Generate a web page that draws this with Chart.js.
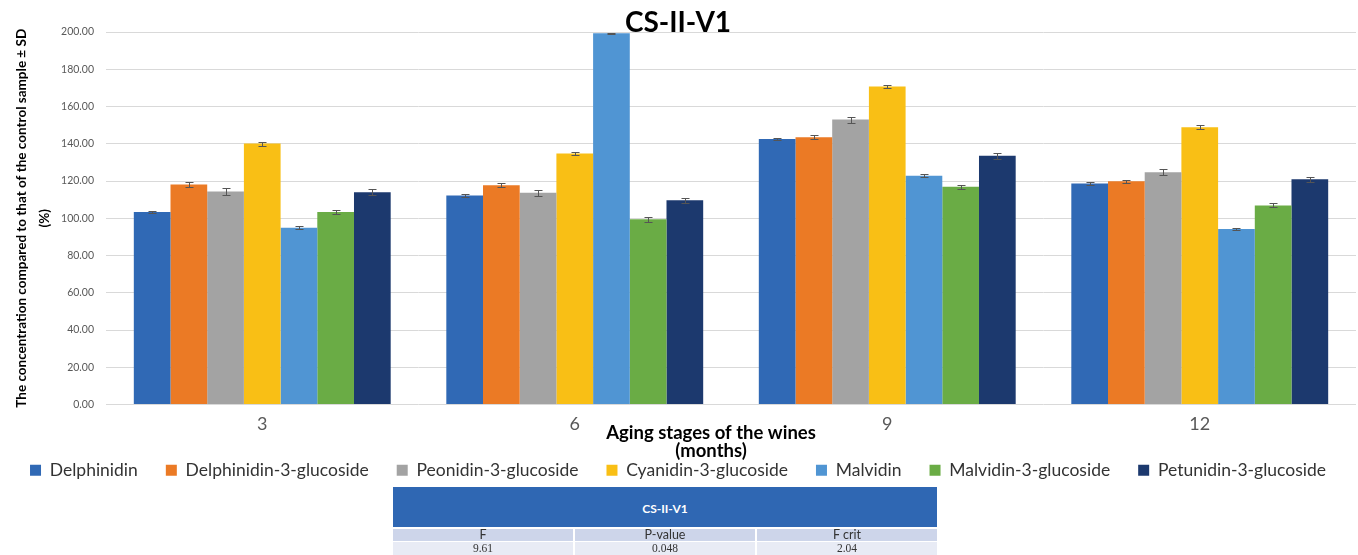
<!DOCTYPE html>
<html>
<head>
<meta charset="utf-8">
<script src="https://cdn.jsdelivr.net/npm/chart.js@4.4.1/dist/chart.umd.min.js"></script>
<style>
  html, body { margin: 0; padding: 0; background: #fff; }
  #wrap { position: relative; width: 1358px; height: 555px; overflow: hidden; }
  #myChart { position: absolute; left: 0; top: 0; }
  #anova {
    position: absolute; left: 393px; top: 487px; width: 544px; table-layout: fixed;
    border-collapse: collapse; font-family: 'Liberation Serif', serif; font-size: 11.5px; color: #333;
  }
  #anova td { text-align: center; padding: 0; border-left: 2px solid #fff; line-height: 12px; overflow: hidden; }
  #anova td:first-child { border-left: none; }
  #anova .head td { background: #2f67b3; color: #fff; font-family: Lato, sans-serif; font-weight: bold; font-size: 12px; height: 36px; padding-top: 4px; }
  #anova .lab td { background: #cdd5ea; font-family: Lato, sans-serif; font-size: 12.5px; height: 12px; border-top: 2px solid #fff; }
  #anova .val td { background: #e8ebf5; height: 13px; line-height: 13px; border-top: 1px solid #fff; }
</style>
</head>
<body>
<div id="wrap">
  <canvas id="myChart" width="1358" height="555"></canvas>
  <table id="anova">
    <colgroup><col style="width:181px"><col style="width:182px"><col style="width:181px"></colgroup>
    <tr class="head"><td colspan="3">CS-II-V1</td></tr>
    <tr class="lab"><td>F</td><td>P-value</td><td>F crit</td></tr>
    <tr class="val"><td>9.61</td><td>0.048</td><td>2.04</td></tr>
  </table>
</div>
<script>
const stages = ['3', '6', '9', '12'];

const delphinidin = [103.3, 112.2, 142.6, 118.7];
const delphinidin3g = [118.1, 117.7, 143.5, 119.9];
const peonidin3g = [114.4, 113.7, 153.0, 124.7];
const cyanidin3g = [140.1, 134.7, 170.8, 148.8];
const malvidin = [94.9, 199.3, 122.8, 94.2];
const malvidin3g = [103.3, 99.4, 116.9, 106.9];
const petunidin3g = [114.0, 109.7, 133.5, 121.0];

const delphinidinSd = [0.5, 0.7, 0.5, 0.6];
const delphinidin3gSd = [1.1, 1.1, 1.1, 0.9];
const peonidin3gSd = [1.8, 1.6, 1.6, 1.7];
const cyanidin3gSd = [1.1, 0.8, 0.8, 1.0];
const malvidinSd = [0.8, 0.3, 0.7, 0.7];
const malvidin3gSd = [1.2, 1.3, 1.2, 1.1];
const petunidin3gSd = [1.6, 1.4, 1.5, 1.3];

const yTicks = [0, 20, 40, 60, 80, 100, 120, 140, 160, 180, 200];

const series = [
  { label: 'Delphinidin', data: delphinidin, sd: delphinidinSd, color: '#3069b5' },
  { label: 'Delphinidin-3-glucoside', data: delphinidin3g, sd: delphinidin3gSd, color: '#eb7a25' },
  { label: 'Peonidin-3-glucoside', data: peonidin3g, sd: peonidin3gSd, color: '#a3a3a3' },
  { label: 'Cyanidin-3-glucoside', data: cyanidin3g, sd: cyanidin3gSd, color: '#f9bf15' },
  { label: 'Malvidin', data: malvidin, sd: malvidinSd, color: '#5095d3' },
  { label: 'Malvidin-3-glucoside', data: malvidin3g, sd: malvidin3gSd, color: '#6aac45' },
  { label: 'Petunidin-3-glucoside', data: petunidin3g, sd: petunidin3gSd, color: '#1c396e' },
];

// error bars drawn from the sd arrays through the y scale
const errorBars = {
  id: 'errorBars',
  afterDatasetsDraw(chart) {
    const ctx = chart.ctx;
    const y = chart.scales.y;
    ctx.save();
    ctx.strokeStyle = '#555';
    ctx.lineWidth = 1;
    chart.data.datasets.forEach((ds, i) => {
      const meta = chart.getDatasetMeta(i);
      meta.data.forEach((bar, j) => {
        const v = ds.data[j];
        const sd = ds.sd[j];
        const top = Math.round(y.getPixelForValue(v + sd)) + 0.5;
        const bot = Math.round(y.getPixelForValue(v - sd)) + 0.5;
        const x = Math.round(bar.x) + 0.5;
        ctx.beginPath();
        ctx.moveTo(x, top); ctx.lineTo(x, bot);
        ctx.moveTo(x - 4, top); ctx.lineTo(x + 4, top);
        ctx.moveTo(x - 4, bot); ctx.lineTo(x + 4, bot);
        ctx.stroke();
      });
    });
    ctx.restore();
  },
};

const titles = {
  id: 'titles',
  afterDraw(chart) {
    const ctx = chart.ctx;
    ctx.save();
    ctx.fillStyle = '#000';
    ctx.textAlign = 'center';
    ctx.textBaseline = 'middle';
    ctx.font = 'bold 28px Lato, sans-serif';
    ctx.fillText('CS-II-V1', 678, 23);
    ctx.font = 'bold 18.5px Lato, sans-serif';
    ctx.fillText('Aging stages of the wines', 711, 433);
    ctx.fillText('(months)', 711, 451);
    ctx.restore();
  },
};

const ctx = document.getElementById('myChart').getContext('2d');
const stockChart = new Chart(ctx, {
  type: 'bar',
  data: {
    labels: stages,
    datasets: series.map((s) => ({
      label: s.label,
      data: s.data,
      sd: s.sd,
      backgroundColor: s.color,
      borderWidth: 0,
      barPercentage: 1,
      categoryPercentage: 0.822,
    })),
  },
  options: {
    responsive: false,
    animation: false,
    layout: { padding: { top: 32, right: 2, bottom: 66, left: 0 } },
    plugins: {
      title: { display: false },
      tooltip: { enabled: false },
      legend: {
        position: 'bottom',
        labels: {
          boxWidth: 11,
          boxHeight: 11,
          padding: 28,
          color: '#333',
          font: { family: 'Lato, sans-serif', size: 17.5 },
        },
      },
    },
    scales: {
      x: {
        grid: { display: false },
        border: { display: false },
        ticks: { color: '#595959', padding: 1, font: { family: 'Lato, sans-serif', size: 18 } },
        afterFit(scale) { scale.height = 29; },
      },
      y: {
        min: 0,
        max: 200,
        afterBuildTicks(scale) { scale.ticks = yTicks.map((v) => ({ value: v })); },
        grid: { color: '#d9d9d9', drawTicks: false },
        border: { display: false },
        ticks: {
          color: '#595959',
          padding: 12,
          font: { family: 'Lato, sans-serif', size: 10.5 },
          callback: (v) => Number(v).toFixed(2),
        },
        title: {
          display: true,
          text: ['The concentration compared to that of the control sample \u00b1 SD', '(%)'],
          color: '#000',
          padding: { top: 10, bottom: 0 },
          font: { family: 'Lato, sans-serif', size: 13.5, weight: 'bold', lineHeight: 1.7 },
        },
        afterFit(scale) { scale.width = 106; },
      },
    },
  },
  plugins: [errorBars, titles],
});
</script>
</body>
</html>
